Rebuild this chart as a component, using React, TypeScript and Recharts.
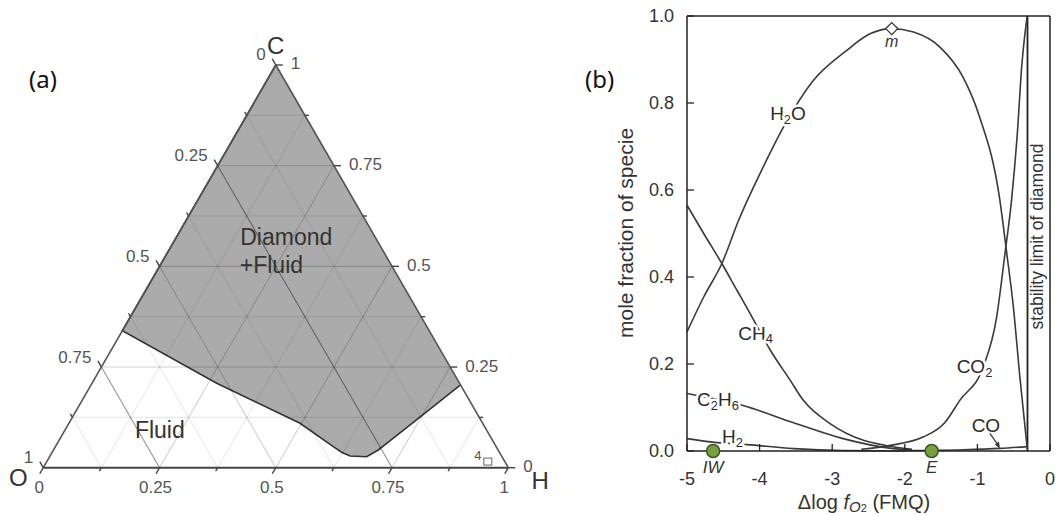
import React from 'react';
import { ComposedChart, Scatter, Line, XAxis, YAxis, ReferenceLine } from 'recharts';

const FONT = '"Liberation Sans", Arial, Helvetica, sans-serif';
const S3 = Math.sqrt(3) / 2;

// ---------------- panel (a): ternary C-H-O diagram ----------------
const ternaryTicks = [0, 0.25, 0.5, 0.75, 1];
const ternaryTickLabels = ['0', '0.25', '0.5', '0.75', '1'];
const ternaryMinorTicks = [0.125, 0.375, 0.625, 0.875];
const ternaryGridSteps = [0.125, 0.25, 0.375, 0.5, 0.625, 0.75, 0.875];
const vertexNames = ['C', 'O', 'H'];
const vertexC = [1, 0, 0];
const vertexH = [0, 0, 1];
// lower boundary of the "Diamond + Fluid" field, from the O-C edge to the C-H edge
const boundaryC = [0.34, 0.2096, 0.1103, 0.0522, 0.0378, 0.0291, 0.0273, 0.044, 0.0606, 0.1358, 0.2054];
const boundaryH = [0, 0.2681, 0.4969, 0.5976, 0.6235, 0.645, 0.6818, 0.6984, 0.7082, 0.753, 0.7946];
const fieldNames = ['Diamond', '+Fluid', 'Fluid'];
const fieldC = [0.573, 0.503, 0.094];
const fieldH = [0.137, 0.171, 0.15];
const sampleNames = ['4'];
const sampleC = [0.014];
const sampleH = [0.949];

// ---------------- panel (b): speciation vs Δlog fO2 ----------------
const xTicks = [-5, -4, -3, -2, -1, 0];
const xInnerTicks = [-4, -3, -2, -1];
const yTicks = [0, 0.2, 0.4, 0.6, 0.8, 1];
const h2oX = [-5, -4.77, -4.52, -4.29, -3.95, -3.67, -3.26, -2.8, -2.48, -2.18, -1.88, -1.52, -1.2, -0.97, -0.69, -0.6, -0.507, -0.415, -0.31];
const h2oY = [0.274, 0.354, 0.431, 0.53, 0.653, 0.745, 0.852, 0.921, 0.959, 0.971, 0.963, 0.929, 0.86, 0.768, 0.576, 0.46, 0.335, 0.17, 0];
const ch4X = [-5, -4.77, -4.52, -4.31, -4.13, -3.85, -3.58, -3.4, -3.03, -2.57, -2.2, -1.9];
const ch4Y = [0.565, 0.5, 0.431, 0.369, 0.316, 0.231, 0.163, 0.117, 0.063, 0.0245, 0.011, 0.004];
const co2X = [-2.6, -2.2, -1.75, -1.45, -1.24, -0.92, -0.735, -0.62, -0.53, -0.45, -0.39, -0.315];
const co2Y = [0.004, 0.013, 0.032, 0.065, 0.117, 0.193, 0.308, 0.454, 0.576, 0.73, 0.883, 1.0];
const c2h6X = [-5, -4.24, -3.55, -2.85, -2.16, -1.9];
const c2h6Y = [0.132, 0.105, 0.066, 0.0285, 0.0055, 0.002];
const h2X = [-5, -4.68, -4.17, -3.53, -2.85, -2.0];
const h2Y = [0.0285, 0.021, 0.0147, 0.0055, 0.001, 0];
const coX = [-2.0, -1.2, -0.69, -0.31];
const coY = [0.001, 0.003, 0.006, 0.01];
const curveLabelText = ['H2O', 'CH4', 'CO2', 'C2H6', 'H2'];
const curveLabelX = [-3.855, -4.294, -1.286, -4.862, -4.519];
const curveLabelY = [0.777, 0.272, 0.195, 0.119, 0.034];
const coLabelX = [-0.69];
const coLabelY = [0.006];
const bufferNames = ['IW', 'E'];
const bufferX = [-4.64, -1.63];
const bufferY = [0, 0];
const maxNames = ['m'];
const maxX = [-2.18];
const maxY = [0.971];

// ---------------- helpers ----------------
const toXY = (c: number, h: number) => ({ x: h + c / 2, y: c * S3 });
const zip = (xs: number[], ys: number[]) => xs.map((x, i) => ({ x, y: ys[i] }));
const Empty = () => <g />;

function ChemText({ x, y, text, size, anchor = 'start', halo = true }: any) {
  const parts = text.split(/(\d+)/).filter(Boolean);
  let prevSub = false;
  const kids = parts.map((p: string, i: number) => {
    const isSub = /^\d+$/.test(p);
    let dy = 0;
    if (isSub && !prevSub) dy = size * 0.3;
    if (!isSub && prevSub) dy = -size * 0.3;
    prevSub = isSub;
    return (
      <tspan key={i} dy={dy} fontSize={isSub ? size * 0.68 : size}>
        {p}
      </tspan>
    );
  });
  return (
    <text
      x={x}
      y={y}
      textAnchor={anchor}
      dominantBaseline="central"
      fontFamily={FONT}
      fontSize={size}
      fill="#2a2a2a"
      stroke={halo ? '#fff' : 'none'}
      strokeWidth={halo ? 5 : 0}
      strokeLinejoin="round"
      paintOrder="stroke"
    >
      {kids}
    </text>
  );
}

// ---------- ternary tick shapes ----------
const tickColor = '#444';
const labelStyle = { fontFamily: FONT, fontSize: 17, fill: '#555' };

const BottomTick = (p: any) => {
  const L = p.payload.major ? 7 : 4;
  return (
    <g>
      <line x1={p.cx} y1={p.cy} x2={p.cx - L * 0.5} y2={p.cy + L * S3} stroke={tickColor} strokeWidth={1.4} />
      {p.payload.label ? (
        <text x={p.cx - 4} y={p.cy + 20} textAnchor="middle" dominantBaseline="central" {...labelStyle}>
          {p.payload.label}
        </text>
      ) : null}
    </g>
  );
};
const LeftTick = (p: any) => {
  const L = p.payload.major ? 7 : 4;
  return (
    <g>
      <line x1={p.cx} y1={p.cy} x2={p.cx - L * 0.5} y2={p.cy - L * S3} stroke={tickColor} strokeWidth={1.4} />
      {p.payload.label ? (
        <text x={p.cx - 10} y={p.cy - 10} textAnchor="end" dominantBaseline="central" {...labelStyle}>
          {p.payload.label}
        </text>
      ) : null}
    </g>
  );
};
const RightTick = (p: any) => {
  const L = p.payload.major ? 7 : 4;
  return (
    <g>
      <line x1={p.cx} y1={p.cy} x2={p.cx + L} y2={p.cy} stroke={tickColor} strokeWidth={1.4} />
      {p.payload.label ? (
        <text x={p.cx + 15} y={p.cy - 1} textAnchor="start" dominantBaseline="central" {...labelStyle}>
          {p.payload.label}
        </text>
      ) : null}
    </g>
  );
};

const vertexOffset: Record<string, [number, number]> = { C: [0, -19], O: [-25, 10], H: [32, 13] };
const VertexLabel = (p: any) => {
  const [dx, dy] = vertexOffset[p.payload.name];
  return (
    <text x={p.cx + dx} y={p.cy + dy} textAnchor="middle" dominantBaseline="central" fontFamily={FONT} fontSize={24} fill="#333">
      {p.payload.name}
    </text>
  );
};
const FieldLabel = (p: any) => (
  <text x={p.cx} y={p.cy} textAnchor="start" dominantBaseline="central" fontFamily={FONT} fontSize={23} fill="#333">
    {p.payload.name}
  </text>
);
const SampleMark = (p: any) => (
  <g>
    <rect x={p.cx - 4} y={p.cy - 4} width={8} height={7} fill="none" stroke="#666" strokeWidth={1} />
    <text x={p.cx - 10} y={p.cy - 7} textAnchor="middle" dominantBaseline="central" fontFamily={FONT} fontSize={13} fill="#555">
      {p.payload.name}
    </text>
  </g>
);

function TernaryChart() {
  const gridSegs: { pts: { x: number; y: number }[]; color: string }[] = [];
  ternaryGridSteps.forEach((s) => {
    const major = Math.abs(s / 0.25 - Math.round(s / 0.25)) < 1e-9;
    const base = major ? 'rgba(0,0,0,0.18)' : 'rgba(0,0,0,0.09)';
    gridSegs.push({ pts: [toXY(s, 0), toXY(s, 1 - s)], color: base });
    gridSegs.push({ pts: [toXY(0, s), toXY(1 - s, s)], color: base });
    const strong = s === 0.25 || s === 0.75;
    gridSegs.push({ pts: [toXY(0, 1 - s), toXY(1 - s, 0)], color: strong ? 'rgba(0,0,0,0.42)' : base });
  });

  const region = [toXY(1, 0), ...boundaryC.map((c, i) => toXY(c, boundaryH[i]))];

  const bottomTicks = [
    ...ternaryTicks.map((t, i) => ({ ...toXY(0, t), label: ternaryTickLabels[i], major: true })),
    ...ternaryMinorTicks.map((t) => ({ ...toXY(0, t), label: '', major: false })),
  ];
  const rightTicks = [
    ...ternaryTicks.map((t, i) => ({ ...toXY(t, 1 - t), label: ternaryTickLabels[i], major: true })),
    ...ternaryMinorTicks.map((t) => ({ ...toXY(t, 1 - t), label: '', major: false })),
  ];
  const leftTicks = [
    ...ternaryTicks.map((t, i) => ({ ...toXY(1 - t, 0), label: ternaryTickLabels[i], major: true })),
    ...ternaryMinorTicks.map((t) => ({ ...toXY(1 - t, 0), label: '', major: false })),
  ];
  const vertices = vertexNames.map((n, i) => ({ ...toXY(vertexC[i], vertexH[i]), name: n }));
  const fields = fieldNames.map((n, i) => ({ ...toXY(fieldC[i], fieldH[i]), name: n }));
  const samples = sampleNames.map((n, i) => ({ ...toXY(sampleC[i], sampleH[i]), name: n }));

  const O = toXY(0, 0), H = toXY(0, 1), C = toXY(1, 0);

  return (
    <ComposedChart width={560} height={515} margin={{ top: 0, right: 0, bottom: 0, left: 0 }}>
      <XAxis type="number" dataKey="x" domain={[-0.0931, 1.1112]} hide allowDataOverflow />
      <YAxis type="number" dataKey="y" domain={[-0.1017, 1.0058]} hide allowDataOverflow />
      <Scatter
        data={region}
        line={{ stroke: '#333', strokeWidth: 1.6, fill: '#ababab' }}
        shape={Empty}
        isAnimationActive={false}
        legendType="none"
      />
      {gridSegs.map((g, i) => (
        <Scatter
          key={'g' + i}
          data={g.pts}
          line={{ stroke: g.color, strokeWidth: 1.1 }}
          shape={Empty}
          isAnimationActive={false}
          legendType="none"
        />
      ))}
      <Scatter data={[C, O]} line={{ stroke: '#555', strokeWidth: 1.6 }} shape={Empty} isAnimationActive={false} legendType="none" />
      <Scatter data={[C, H]} line={{ stroke: '#555', strokeWidth: 1.6 }} shape={Empty} isAnimationActive={false} legendType="none" />
      <Scatter data={[O, H]} line={{ stroke: '#444', strokeWidth: 2 }} shape={Empty} isAnimationActive={false} legendType="none" />
      <Scatter data={bottomTicks} shape={BottomTick} isAnimationActive={false} legendType="none" />
      <Scatter data={leftTicks} shape={LeftTick} isAnimationActive={false} legendType="none" />
      <Scatter data={rightTicks} shape={RightTick} isAnimationActive={false} legendType="none" />
      <Scatter data={vertices} shape={VertexLabel} isAnimationActive={false} legendType="none" />
      <Scatter data={fields} shape={FieldLabel} isAnimationActive={false} legendType="none" />
      <Scatter data={samples} shape={SampleMark} isAnimationActive={false} legendType="none" />
    </ComposedChart>
  );
}

// ---------- panel (b) shapes ----------
const CurveLabel = (p: any) => <ChemText x={p.cx} y={p.cy} text={p.payload.text} size={19} />;
const BufferMark = (p: any) => (
  <g>
    <circle cx={p.cx} cy={p.cy} r={6.5} fill="#78a043" stroke="#3e5424" strokeWidth={1.5} />
    <text x={p.cx} y={p.cy + 16} textAnchor="middle" dominantBaseline="central" fontFamily={FONT} fontStyle="italic" fontSize={17} fill="#333">
      {p.payload.name}
    </text>
  </g>
);
const MaxMark = (p: any) => (
  <g>
    <polygon
      points={`${p.cx},${p.cy - 6} ${p.cx + 6},${p.cy} ${p.cx},${p.cy + 6} ${p.cx - 6},${p.cy}`}
      fill="#fff"
      stroke="#333"
      strokeWidth={1.3}
    />
    <text x={p.cx} y={p.cy + 13} textAnchor="middle" dominantBaseline="central" fontFamily={FONT} fontStyle="italic" fontSize={16} fill="#333">
      {p.payload.name}
    </text>
  </g>
);
const CoLabel = (p: any) => (
  <g>
    <ChemText x={p.cx - 14} y={p.cy - 23} text="CO" size={19} anchor="middle" />
    <line x1={p.cx - 10} y1={p.cy - 15} x2={p.cx - 1} y2={p.cy - 2} stroke="#333" strokeWidth={1.2} />
    <polygon points={`${p.cx},${p.cy} ${p.cx - 5},${p.cy - 4} ${p.cx - 1},${p.cy - 7}`} fill="#333" />
  </g>
);

const YLabel = (props: any) => {
  const vb = props.viewBox;
  const cx = vb.x + 8;
  const cy = 233;
  return (
    <text x={cx} y={cy} transform={`rotate(-90 ${cx} ${cy})`} textAnchor="middle" dominantBaseline="central" fontFamily={FONT} fontSize={21} fill="#333">
      mole fraction of specie
    </text>
  );
};
const XLabel = (props: any) => {
  const vb = props.viewBox;
  const cx = vb.x + 177;
  const cy = vb.y + 51;
  return (
    <text x={cx} y={cy} textAnchor="middle" dominantBaseline="central" fontFamily={FONT} fontSize={20} fill="#333">
      <tspan>Δlog </tspan>
      <tspan fontStyle="italic">f</tspan>
      <tspan fontStyle="italic" fontSize={15} dy={4}>O</tspan>
      <tspan fontSize={11} dy={2}>2</tspan>
      <tspan dy={-6}> (FMQ)</tspan>
    </text>
  );
};
const StabilityLabel = (props: any) => {
  const vb = props.viewBox;
  const cx = vb.x + 10;
  const cy = 236.5;
  return (
    <text x={cx} y={cy} transform={`rotate(-90 ${cx} ${cy})`} textAnchor="middle" dominantBaseline="central" fontFamily={FONT} fontSize={17.5} fill="#333">
      stability limit of diamond
    </text>
  );
};
const EmptyTick = () => <g />;

function SpeciesChart() {
  const lineProps = { type: 'monotone' as const, dataKey: 'y', stroke: '#3a3a3a', strokeWidth: 1.6, dot: false, isAnimationActive: false, legendType: 'none' as const };
  const labels = curveLabelText.map((t, i) => ({ x: curveLabelX[i], y: curveLabelY[i], text: t }));
  const buffers = bufferNames.map((n, i) => ({ x: bufferX[i], y: bufferY[i], name: n }));
  const maxima = maxNames.map((n, i) => ({ x: maxX[i], y: maxY[i], name: n }));
  const coLabels = coLabelX.map((x, i) => ({ x, y: coLabelY[i] }));
  return (
    <ComposedChart width={526} height={515} margin={{ top: 6, right: 6, bottom: 34, left: 87 }}>
      <XAxis
        type="number"
        dataKey="x"
        domain={[-5, 0]}
        ticks={xTicks}
        interval={0}
        tickSize={-7}
        tickMargin={28}
        height={30}
        stroke="#222"
        axisLine={{ stroke: '#222', strokeWidth: 1.5 }}
        tickLine={{ stroke: '#222', strokeWidth: 1.3 }}
        tick={{ fontSize: 18, fill: '#333', fontFamily: FONT }}
        tickFormatter={(v: number) => String(v)}
        label={XLabel}
      />
      <XAxis
        xAxisId="top"
        orientation="top"
        type="number"
        dataKey="x"
        domain={[-5, 0]}
        ticks={xInnerTicks}
        interval={0}
        tickSize={-7}
        height={10}
        axisLine={{ stroke: '#222', strokeWidth: 1.5 }}
        tickLine={{ stroke: '#222', strokeWidth: 1.3 }}
        tick={EmptyTick}
      />
      <YAxis
        type="number"
        dataKey="y"
        domain={[0, 1]}
        ticks={yTicks}
        interval={0}
        width={70}
        tickSize={-7}
        tickMargin={20}
        axisLine={{ stroke: '#222', strokeWidth: 1.5 }}
        tickLine={{ stroke: '#222', strokeWidth: 1.3 }}
        tick={{ fontSize: 18, fill: '#333', fontFamily: FONT }}
        tickFormatter={(v: number) => v.toFixed(1)}
        label={YLabel}
      />
      <ReferenceLine x={0} stroke="#222" strokeWidth={1.5} />
      <ReferenceLine x={-0.31} stroke="#222" strokeWidth={1.8} label={StabilityLabel} />
      <Line data={zip(h2oX, h2oY)} {...lineProps} />
      <Line data={zip(ch4X, ch4Y)} {...lineProps} />
      <Line data={zip(co2X, co2Y)} {...lineProps} />
      <Line data={zip(c2h6X, c2h6Y)} {...lineProps} />
      <Line data={zip(h2X, h2Y)} {...lineProps} />
      <Line data={zip(coX, coY)} {...lineProps} />
      <Scatter data={labels} shape={CurveLabel} isAnimationActive={false} legendType="none" />
      <Scatter data={coLabels} shape={CoLabel} isAnimationActive={false} legendType="none" />
      <Scatter data={maxima} shape={MaxMark} isAnimationActive={false} legendType="none" />
      <Scatter data={buffers} shape={BufferMark} isAnimationActive={false} legendType="none" />
    </ComposedChart>
  );
}

export default function App() {
  const panelLabel: React.CSSProperties = {
    position: 'absolute',
    fontFamily: '"Noto Sans", "Open Sans", sans-serif',
    fontSize: 24,
    lineHeight: '32px',
    color: '#111',
  };
  return (
    <div style={{ position: 'absolute', left: 0, top: 0, width: 1056, height: 515, background: '#fff', overflow: 'hidden' }}>
      <div style={{ position: 'absolute', left: 0, top: 0 }}>
        <TernaryChart />
      </div>
      <div style={{ position: 'absolute', left: 530, top: 0 }}>
        <SpeciesChart />
      </div>
      <div style={{ ...panelLabel, left: 29, top: 63 }}>(a)</div>
      <div style={{ ...panelLabel, left: 585, top: 63 }}>(b)</div>
    </div>
  );
}
